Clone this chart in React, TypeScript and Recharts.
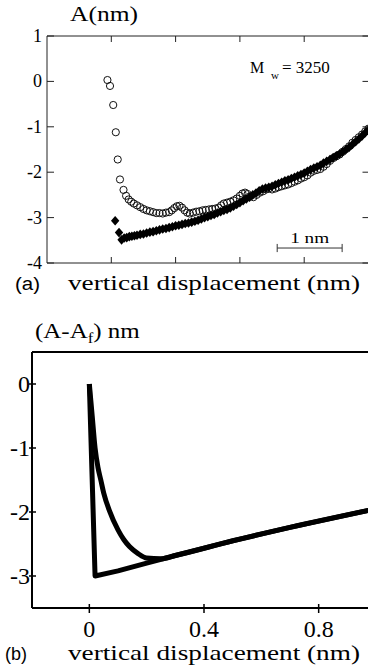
import { ScatterChart, Scatter, LineChart, Line, XAxis, YAxis, ReferenceLine, Label } from 'recharts'

// panel (a): measured amplitude vs vertical displacement (nm)
const openCircles: number[][] = [
  [0.94, 0.03], [0.98, -0.1], [1.03, -0.52], [1.07, -1.12], [1.1, -1.72], [1.135, -2.16],
  [1.19, -2.39], [1.23, -2.52], [1.27, -2.6], [1.31, -2.65], [1.35, -2.69], [1.4, -2.73],
  [1.45, -2.77], [1.5, -2.81], [1.55, -2.84], [1.6, -2.86], [1.65, -2.88], [1.7, -2.9],
  [1.75, -2.9], [1.8, -2.91], [1.85, -2.89], [1.9, -2.88], [1.94, -2.84], [1.98, -2.79],
  [2.02, -2.75], [2.06, -2.74], [2.1, -2.78], [2.14, -2.84], [2.18, -2.89], [2.22, -2.91],
  [2.27, -2.89], [2.32, -2.87], [2.37, -2.86], [2.42, -2.84], [2.47, -2.83], [2.52, -2.82],
  [2.57, -2.81], [2.62, -2.8], [2.67, -2.78], [2.71, -2.73], [2.75, -2.69], [2.8, -2.67],
  [2.85, -2.65], [2.9, -2.62], [2.95, -2.58], [3.0, -2.52], [3.04, -2.47], [3.08, -2.45],
  [3.12, -2.48], [3.16, -2.53], [3.21, -2.55], [3.26, -2.5], [3.31, -2.45], [3.36, -2.42],
  [3.41, -2.38], [3.45, -2.36], [3.5, -2.38], [3.55, -2.36], [3.6, -2.33], [3.65, -2.31],
  [3.7, -2.29], [3.75, -2.27], [3.8, -2.24], [3.85, -2.21], [3.9, -2.18], [3.95, -2.14],
  [4.0, -2.11], [4.05, -2.07], [4.1, -2.01], [4.15, -1.97], [4.2, -1.95], [4.25, -1.93],
  [4.3, -1.88], [4.35, -1.82], [4.4, -1.75], [4.45, -1.69], [4.5, -1.65], [4.55, -1.61],
  [4.6, -1.55], [4.65, -1.49], [4.7, -1.43], [4.75, -1.35], [4.8, -1.29], [4.85, -1.23],
  [4.9, -1.17], [4.95, -1.1], [5.0, -1.04],
]

const filledDiamonds: number[][] = [
  [1.06, -3.07], [1.12, -3.33], [1.16, -3.49], [1.2, -3.45], [1.24, -3.44], [1.28, -3.42],
  [1.32, -3.41], [1.36, -3.4], [1.4, -3.39], [1.45, -3.37], [1.5, -3.36], [1.55, -3.34],
  [1.6, -3.32], [1.65, -3.31], [1.7, -3.29], [1.75, -3.27], [1.8, -3.25], [1.85, -3.24],
  [1.9, -3.22], [1.95, -3.2], [2.0, -3.18], [2.05, -3.17], [2.1, -3.15], [2.15, -3.13],
  [2.2, -3.12], [2.25, -3.1], [2.3, -3.08], [2.35, -3.06], [2.4, -3.03], [2.45, -3.0],
  [2.5, -2.98], [2.55, -2.95], [2.6, -2.93], [2.65, -2.9], [2.7, -2.87], [2.75, -2.84],
  [2.8, -2.82], [2.85, -2.79], [2.9, -2.75], [2.95, -2.71], [3.0, -2.67], [3.05, -2.63],
  [3.1, -2.59], [3.15, -2.55], [3.2, -2.5], [3.25, -2.46], [3.3, -2.41], [3.35, -2.37],
  [3.4, -2.35], [3.45, -2.33], [3.5, -2.31], [3.55, -2.28], [3.6, -2.25], [3.65, -2.22],
  [3.7, -2.19], [3.75, -2.17], [3.8, -2.14], [3.85, -2.11], [3.9, -2.08], [3.95, -2.05],
  [4.0, -2.02], [4.05, -1.98], [4.1, -1.94], [4.15, -1.91], [4.2, -1.88], [4.25, -1.85],
  [4.3, -1.8], [4.35, -1.76], [4.4, -1.72], [4.45, -1.68], [4.5, -1.64], [4.55, -1.6],
  [4.6, -1.55], [4.65, -1.5], [4.7, -1.45], [4.75, -1.39], [4.8, -1.33], [4.85, -1.27],
  [4.9, -1.2], [4.95, -1.13], [5.0, -1.06],
]

const aXTicks = [1, 2, 3, 4]
const aYTicks = [1, 0, -1, -2, -3, -4]
const scaleBar = { from: 3.58, to: 4.59, y: -3.67, cap: 0.09 }

// panel (b): simulated (A - Af) curves
const approachCurve: number[][] = [
  [0, 0], [0.02, -3.0], [0.1, -2.92], [0.2, -2.8], [0.3, -2.68], [0.5, -2.45], [0.7, -2.24], [1.0, -1.95],
]
const retractCurve: number[][] = [
  [0, 0], [0.01, -0.5], [0.02, -1.0], [0.03, -1.3], [0.04, -1.5], [0.05, -1.7], [0.07, -1.98],
  [0.1, -2.28], [0.12, -2.43], [0.14, -2.54], [0.17, -2.65], [0.2, -2.72], [0.25, -2.73],
  [0.3, -2.68], [0.5, -2.45], [0.7, -2.24], [1.0, -1.95],
]

const bXTicks = [0, 0.4, 0.8]
const bYTicks = [0, -1, -2, -3]

const toPoints = (rows: number[][]) => rows.map(([x, y]) => ({ x, y }))

const serif = '"Liberation Serif", "Times New Roman", serif'
const sans = '"Liberation Sans", Arial, sans-serif'
const ink = '#222'

// chart (a) layout
const A_W = 380
const A_H = 300
const A_TOP = 36
const A_LEFT = 47
const A_RIGHT = 11.5
const A_BOTTOM = 37
const A_PLOT_W = A_W - A_LEFT - A_RIGHT
const A_PLOT_H = A_H - A_TOP - A_BOTTOM

const ATickX = ({ x, y }: any) => (
  <g stroke={ink} strokeWidth={1}>
    <line x1={x} x2={x} y1={y} y2={y - 6} />
    <line x1={x} x2={x} y1={y - A_PLOT_H} y2={y - A_PLOT_H + 6} />
  </g>
)

const ATickY = ({ x, y, payload }: any) => (
  <g>
    <line x1={x} x2={x + 7} y1={y} y2={y} stroke={ink} />
    <line x1={x + A_PLOT_W - 6} x2={x + A_PLOT_W} y1={y} y2={y} stroke={ink} />
    <text x={x - 5} y={y + 6} textAnchor="end" fontSize={18} fontFamily={serif} fill="#000">
      {payload.value}
    </text>
  </g>
)

const OpenCircle = ({ cx, cy }: any) => (
  <circle cx={cx} cy={cy} r={3.6} fill="none" stroke="#111" strokeWidth={1} />
)

const Diamond = ({ cx, cy }: any) => (
  <polygon points={`${cx},${cy - 4.8} ${cx + 4.2},${cy} ${cx},${cy + 4.8} ${cx - 4.2},${cy}`} fill="#000" />
)

// chart (b) layout
const B_W = 376
const B_H = 348

const BTickX = ({ x, y, payload }: any) => (
  <g>
    <line x1={x} x2={x} y1={y - 4} y2={y + 5} stroke="#000" strokeWidth={1.5} />
    <text x={x} y={y + 29} textAnchor="middle" fontSize={24} fontFamily={serif} fill="#000">
      {payload.value}
    </text>
  </g>
)

const BTickY = ({ x, y, payload }: any) => (
  <g>
    <line x1={x - 3} x2={x + 4} y1={y} y2={y} stroke="#000" strokeWidth={1.5} />
    <text x={x - 2} y={y + 8} textAnchor="end" fontSize={24} fontFamily={serif} fill="#000">
      {payload.value}
    </text>
  </g>
)

const Caption = ({ tag, y }: { tag: string, y: number }) => (
  <g fill="#000">
    <text x={tag === '(a)' ? 15 : 5} y={y} fontSize={18} fontFamily={sans} textLength={tag === '(a)' ? 25 : 22} lengthAdjust="spacingAndGlyphs">
      {tag}
    </text>
    <text x={68} y={y} fontSize={22} fontFamily={serif} textLength={292} lengthAdjust="spacingAndGlyphs">
      vertical displacement (nm)
    </text>
  </g>
)

export default function App() {
  return (
    <div style={{ position: 'absolute', left: 0, top: 0, width: 368, height: 668, overflow: 'hidden', background: '#fff' }}>
      <div style={{ position: 'absolute', left: 0, top: 0 }}>
        <ScatterChart width={A_W} height={A_H} margin={{ top: A_TOP, right: A_RIGHT, bottom: 0, left: 0 }}>
          <XAxis
            type="number"
            dataKey="x"
            domain={[0, 5]}
            ticks={aXTicks}
            interval={0}
            height={A_BOTTOM}
            tickSize={0}
            tickMargin={0}
            tickLine={false}
            tick={<ATickX />}
            axisLine={{ stroke: ink }}
          >
            <Label content={() => <Caption tag="(a)" y={290} />} />
          </XAxis>
          <YAxis
            type="number"
            dataKey="y"
            domain={[-4, 1]}
            ticks={aYTicks}
            interval={0}
            width={A_LEFT}
            tickSize={0}
            tickMargin={0}
            tickLine={false}
            tick={<ATickY />}
            axisLine={{ stroke: ink }}
          >
            <Label
              content={() => (
                <g fill="#000" fontFamily={serif}>
                  <text x={70} y={21} fontSize={20} textLength={68} lengthAdjust="spacingAndGlyphs">A(nm)</text>
                  <text x={250} y={73} fontSize={16}>
                    M
                    <tspan x={271} dy={6} fontSize={11}>w</tspan>
                    <tspan x={282} dy={-6} fontSize={17}>= 3250</tspan>
                  </text>
                </g>
              )}
            />
          </YAxis>
          <ReferenceLine y={1} stroke={ink} />
          <ReferenceLine
            segment={[{ x: scaleBar.from, y: scaleBar.y }, { x: scaleBar.to, y: scaleBar.y }]}
            stroke="#333"
            label={(props: any) => {
              const vb = props.viewBox || {}
              return (
                <text x={(vb.x ?? 0) + (vb.width ?? 0) / 2} y={(vb.y ?? 0) - 5} textAnchor="middle" fontSize={15} fontFamily={serif} textLength={39} lengthAdjust="spacingAndGlyphs" fill="#000">
                  1 nm
                </text>
              )
            }}
          />
          <ReferenceLine segment={[{ x: scaleBar.from, y: scaleBar.y - scaleBar.cap }, { x: scaleBar.from, y: scaleBar.y + scaleBar.cap }]} stroke="#333" />
          <ReferenceLine segment={[{ x: scaleBar.to, y: scaleBar.y - scaleBar.cap }, { x: scaleBar.to, y: scaleBar.y + scaleBar.cap }]} stroke="#333" />
          <Scatter data={toPoints(openCircles)} shape={<OpenCircle />} isAnimationActive={false} />
          <Scatter data={toPoints(filledDiamonds)} shape={<Diamond />} isAnimationActive={false} />
        </ScatterChart>
      </div>
      <div style={{ position: 'absolute', left: 0, top: 320 }}>
        <LineChart width={B_W} height={B_H} margin={{ top: 32, right: 0, bottom: 0, left: 0 }}>
          <XAxis
            type="number"
            dataKey="x"
            domain={[-0.2, 1]}
            ticks={bXTicks}
            interval={0}
            height={60}
            tickSize={0}
            tickMargin={0}
            tickLine={false}
            tick={<BTickX />}
            axisLine={{ stroke: '#000', strokeWidth: 2 }}
            allowDataOverflow
          >
            <Label content={() => <Caption tag="(b)" y={340} />} />
          </XAxis>
          <YAxis
            type="number"
            domain={[-3.5, 0.5]}
            ticks={bYTicks}
            interval={0}
            width={32}
            tickSize={0}
            tickMargin={0}
            tickLine={false}
            tick={<BTickY />}
            axisLine={{ stroke: '#000', strokeWidth: 2 }}
            allowDataOverflow
          >
            <Label
              content={() => (
                <text transform="translate(35,18) scale(1.19,1)" fontSize={21} fontFamily={serif} fill="#000">
                  (A-A<tspan fontSize={14} dy={5}>f</tspan><tspan dy={-5}>) nm</tspan>
                </text>
              )}
            />
          </YAxis>
          <ReferenceLine y={0.5} stroke="#000" strokeWidth={2} />
          <Line data={toPoints(approachCurve)} dataKey="y" type="linear" stroke="#000" strokeWidth={5} strokeLinejoin="round" dot={false} isAnimationActive={false} />
          <Line data={toPoints(retractCurve)} dataKey="y" type="monotone" stroke="#000" strokeWidth={5} strokeLinejoin="round" dot={false} isAnimationActive={false} />
        </LineChart>
      </div>
    </div>
  )
}
